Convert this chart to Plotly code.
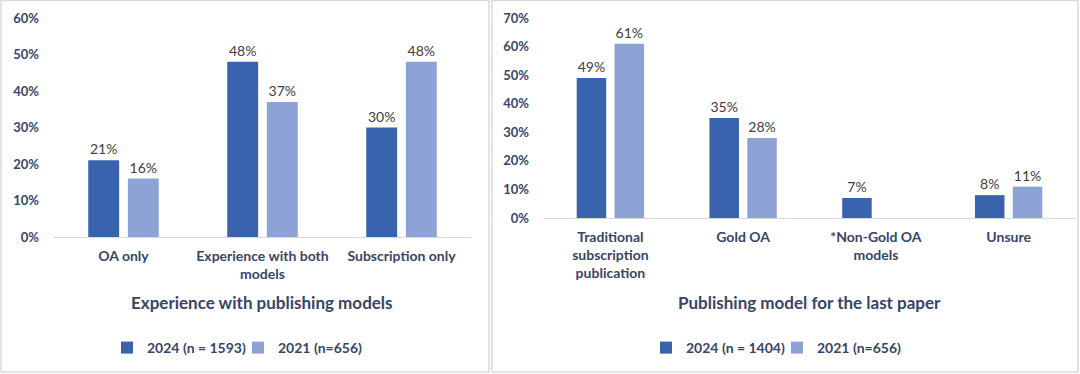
import plotly.graph_objects as go

# ---- data ----
left_categories = ["OA only", "Experience with both<br>models", "Subscription only"]
left_2024 = [0.21, 0.48, 0.30]
left_2021 = [0.16, 0.37, 0.48]
left_title = "Experience with publishing models"
left_names = ["2024 (n = 1593)", "2021 (n=656)"]
left_ticks = [0, 0.1, 0.2, 0.3, 0.4, 0.5, 0.6]

right_categories = ["Traditional<br>subscription<br>publication", "Gold OA",
                    "*Non-Gold OA<br>models", "Unsure"]
right_2024 = [0.49, 0.35, 0.07, 0.08]
right_2021 = [0.61, 0.28, None, 0.11]
right_title = "Publishing model for the last paper"
right_names = ["2024 (n = 1404)", "2021 (n=656)"]
right_ticks = [0, 0.1, 0.2, 0.3, 0.4, 0.5, 0.6, 0.7]

# ---- style ----
W, H = 1080, 374
DARK = "#3A63AD"
LIGHT = "#8EA3D5"
NAVY = "#374568"
LABEL = "#404040"
BORDER = "#DADADA"
FONT = "Lato"

fig = go.Figure()

def bar(x, y, name, color, xa, ya, legend):
    return go.Bar(
        x=x, y=y, name=name, marker=dict(color=color, line=dict(width=0)),
        xaxis=xa, yaxis=ya, legend=legend,
        text=[None if v is None else f"{round(v*100)}%" for v in y],
        textposition="outside", cliponaxis=False,
        textfont=dict(family=FONT, size=14, color=LABEL),
    )

fig.add_trace(bar(left_categories, left_2024, left_names[0], DARK, "x", "y", "legend"))
fig.add_trace(bar(left_categories, left_2021, left_names[1], LIGHT, "x", "y", "legend"))
fig.add_trace(bar(right_categories, right_2024, right_names[0], DARK, "x2", "y2", "legend2"))
fig.add_trace(bar(right_categories, right_2021, right_names[1], LIGHT, "x2", "y2", "legend2"))

def px_x(p):
    return p / W

def px_y(p):
    return (H - p) / H

ytickfont = dict(family=FONT, size=13, color=NAVY, weight="bold")
xtickfont = dict(family=FONT, size=14, color=NAVY, weight="bold")

xaxis_common = dict(showgrid=False, showline=True, linecolor="#D9D9D9", linewidth=1,
                    ticks="", tickfont=xtickfont, fixedrange=True, tickangle=0,
                    automargin=False, zeroline=False, ticklabelstandoff=6)
yaxis_common = dict(showgrid=False, showline=False, zeroline=False, ticks="",
                    tickformat=".0%", tickfont=ytickfont, fixedrange=True, automargin=False)

legend_common = dict(orientation="h", xref="container", yref="container",
                     yanchor="middle", xanchor="left",
                     font=dict(family=FONT, size=14, color=NAVY, weight="bold"),
                     itemwidth=30, bgcolor="rgba(0,0,0,0)", tracegroupgap=0,
                     entrywidth=86)

fig.update_layout(
    template="none",
    width=W, height=H,
    autosize=False,
    margin=dict(l=0, r=0, t=0, b=0, pad=0, autoexpand=False),
    paper_bgcolor="white", plot_bgcolor="white",
    barmode="group", bargap=0.43, bargroupgap=0.22,
    font=dict(family=FONT, color=NAVY),
    xaxis=dict(domain=[px_x(54), px_x(471)], anchor="y", **xaxis_common),
    yaxis=dict(domain=[px_y(237), px_y(18)], anchor="x", range=[0, 0.6],
               tickvals=left_ticks, ticklabelstandoff=14, **yaxis_common),
    xaxis2=dict(domain=[px_x(544), px_x(1075)], anchor="y2", **xaxis_common),
    yaxis2=dict(domain=[px_y(218), px_y(18)], anchor="x2", range=[0, 0.7],
                tickvals=right_ticks, ticklabelstandoff=14, **yaxis_common),
    legend=dict(x=px_x(107), y=px_y(348), **legend_common),
    legend2=dict(x=px_x(646), y=px_y(348), **legend_common),
    showlegend=True,
)

fig.add_annotation(text=left_title, xref="paper", yref="paper", x=px_x(262), y=px_y(302),
                   showarrow=False, font=dict(family=FONT, size=17, color=NAVY, weight="bold"),
                   xanchor="center", yanchor="middle")
fig.add_annotation(text=right_title, xref="paper", yref="paper", x=px_x(809), y=px_y(302),
                   showarrow=False, font=dict(family=FONT, size=17, color=NAVY, weight="bold"),
                   xanchor="center", yanchor="middle")

# panel borders
fig.add_shape(type="rect", xref="paper", yref="paper", x0=px_x(1), x1=px_x(489),
              y0=px_y(372), y1=px_y(0.5), line=dict(color=BORDER, width=1.5), layer="below")
fig.add_shape(type="rect", xref="paper", yref="paper", x0=px_x(492), x1=px_x(1078),
              y0=px_y(372), y1=px_y(0.5), line=dict(color=BORDER, width=1.5), layer="below")

fig.write_html("out.html", config={"displayModeBar": False},
               post_script="document.body.style.margin='0';")
